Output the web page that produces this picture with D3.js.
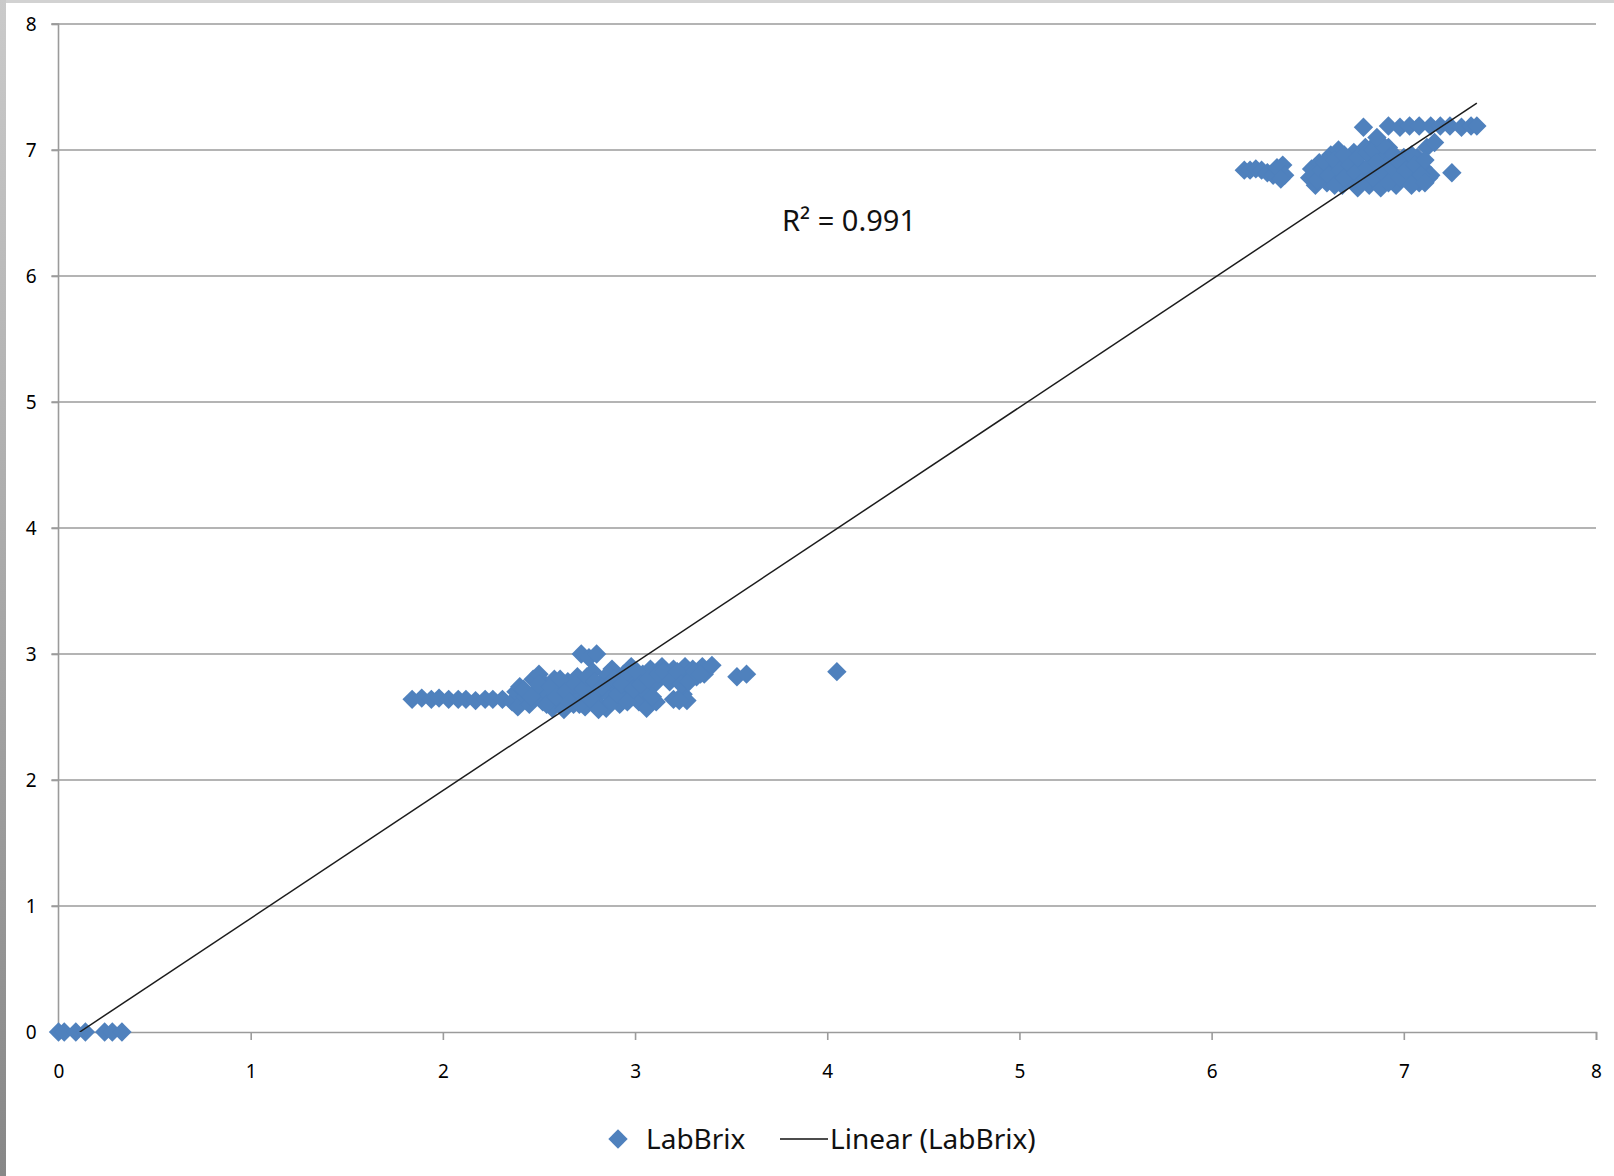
<!DOCTYPE html>
<html>
<head>
<meta charset="utf-8">
<script src="https://cdn.jsdelivr.net/npm/d3@7"></script>
<style>
  body { margin: 0; background: #fff; }
  svg { display: block; font-family: 'Noto Sans', sans-serif; }
</style>
</head>
<body>
<svg id="chart" width="1614" height="1176"></svg>
<script>
// LabBrix samples: [x, y]
const labBrixLow = [
  [0.00, 0.00], [0.03, 0.00], [0.09, 0.00], [0.14, 0.00],
  [0.24, 0.00], [0.28, 0.00], [0.33, 0.00]
]

const labBrixMid = [
  [1.84, 2.64], [1.89, 2.65], [1.94, 2.64], [1.98, 2.65], [2.03, 2.64], [2.08, 2.64],
  [2.12, 2.64], [2.17, 2.63], [2.22, 2.64], [2.26, 2.64], [2.31, 2.64],
  [2.36, 2.62], [2.38, 2.70], [2.39, 2.58], [2.40, 2.74], [2.43, 2.66], [2.45, 2.60],
  [2.47, 2.80], [2.48, 2.70], [2.50, 2.84], [2.52, 2.62], [2.53, 2.76], [2.55, 2.68],
  [2.57, 2.57], [2.58, 2.80], [2.60, 2.72], [2.62, 2.64], [2.63, 2.56], [2.65, 2.78],
  [2.67, 2.70], [2.68, 2.60], [2.72, 3.00], [2.76, 2.97], [2.80, 3.00],
  [2.70, 2.82], [2.72, 2.66], [2.74, 2.58], [2.76, 2.74], [2.78, 2.86], [2.80, 2.62],
  [2.82, 2.70], [2.84, 2.80], [2.85, 2.57], [2.87, 2.66], [2.88, 2.88], [2.90, 2.74],
  [2.92, 2.60], [2.94, 2.84], [2.95, 2.70], [2.97, 2.66], [2.98, 2.90], [3.00, 2.78],
  [3.02, 2.62], [3.04, 2.84], [3.05, 2.70], [3.06, 2.57], [3.08, 2.88], [3.10, 2.76],
  [3.11, 2.62], [3.14, 2.90], [3.16, 2.82], [3.20, 2.64], [3.20, 2.88], [3.22, 2.80],
  [3.25, 2.68], [3.26, 2.90], [3.27, 2.63], [3.28, 2.84], [3.30, 2.88], [3.32, 2.82],
  [3.35, 2.90], [3.36, 2.84],
  [2.42, 2.72], [2.46, 2.66], [2.50, 2.76], [2.54, 2.60], [2.56, 2.74], [2.59, 2.66],
  [2.61, 2.80], [2.64, 2.70], [2.66, 2.62], [2.69, 2.76], [2.71, 2.60], [2.73, 2.72],
  [2.75, 2.82], [2.77, 2.64], [2.79, 2.78], [2.81, 2.56], [2.83, 2.74], [2.86, 2.84],
  [2.88, 2.62], [2.89, 2.80], [2.91, 2.68], [2.93, 2.76], [2.96, 2.86], [2.96, 2.62],
  [2.99, 2.72], [3.01, 2.86], [3.03, 2.76], [3.07, 2.80], [3.09, 2.66], [3.12, 2.84],
  [3.15, 2.86], [3.18, 2.78], [3.22, 2.86], [3.24, 2.76], [3.28, 2.78], [3.31, 2.86],
  [3.34, 2.84], [3.23, 2.63],
  [3.40, 2.91], [3.53, 2.82], [3.58, 2.84], [4.05, 2.86]
]

const labBrixHigh = [
  [6.17, 6.84], [6.20, 6.84], [6.23, 6.85], [6.26, 6.84], [6.29, 6.82], [6.32, 6.80],
  [6.34, 6.86], [6.37, 6.88], [6.38, 6.80], [6.36, 6.77],
  [6.51, 6.78], [6.52, 6.85], [6.54, 6.72], [6.56, 6.90], [6.58, 6.80], [6.60, 6.74],
  [6.62, 6.96], [6.63, 6.86], [6.65, 6.78], [6.66, 7.00], [6.68, 6.72], [6.70, 6.92],
  [6.71, 6.84], [6.73, 6.76], [6.74, 6.98], [6.76, 6.70], [6.77, 6.88], [6.79, 6.80],
  [6.80, 7.02], [6.82, 6.72], [6.83, 6.94], [6.85, 6.84], [6.86, 7.06], [6.87, 6.76],
  [6.88, 6.70], [6.90, 6.98], [6.91, 6.88], [6.93, 6.78], [6.92, 7.02], [6.96, 6.72],
  [6.97, 6.92], [6.99, 6.84], [7.00, 6.94], [7.02, 6.76], [7.03, 6.90], [7.05, 6.82],
  [7.07, 6.94], [7.08, 6.74], [7.10, 6.86], [7.12, 7.02], [7.13, 6.78], [7.14, 6.80],
  [7.16, 7.06], [7.06, 6.78],
  [6.53, 6.80], [6.55, 6.76], [6.57, 6.84], [6.59, 6.90], [6.61, 6.80], [6.64, 6.72],
  [6.64, 6.92], [6.67, 6.84], [6.69, 6.78], [6.69, 6.96], [6.72, 6.88], [6.75, 6.82],
  [6.76, 6.94], [6.78, 6.74], [6.81, 6.86], [6.81, 6.98], [6.84, 6.78], [6.84, 7.00],
  [6.86, 6.90], [6.89, 6.82], [6.89, 7.04], [6.92, 6.74], [6.94, 6.86], [6.95, 6.96],
  [6.98, 6.78], [6.98, 6.90], [7.01, 6.84], [7.04, 6.72], [7.04, 6.96], [7.06, 6.88],
  [7.09, 6.80], [7.11, 6.92], [7.11, 6.74], [6.86, 7.10],
  [6.79, 7.18], [6.92, 7.19], [6.98, 7.18], [7.03, 7.19], [7.08, 7.19], [7.14, 7.19],
  [7.19, 7.19], [7.24, 7.19], [7.30, 7.18], [7.35, 7.19], [7.38, 7.19],
  [7.25, 6.82]
]

const xTicks = [0, 1, 2, 3, 4, 5, 6, 7, 8]
const yTicks = [0, 1, 2, 3, 4, 5, 6, 7, 8]

// linear trendline as Excel reports it
const trendSlope = 1.014
const trendIntercept = -0.112
const trendXMax = 7.38
const rSquaredLabel = 'R² = 0.991'

const seriesName = 'LabBrix'
const trendName = 'Linear (LabBrix)'

const margin = { top: 24, right: 18, bottom: 144, left: 58.5 }
const width = 1614
const height = 1176
const plotW = width - margin.left - margin.right
const plotH = height - margin.top - margin.bottom

const gridColor = '#9b9b9b'
const markerColor = '#4f81bd'

const svg = d3.select('#chart')

// window frame shading
const defs = svg.append('defs')
const grad = defs.append('linearGradient')
  .attr('id', 'leftEdge')
  .attr('x1', 0).attr('y1', 0).attr('x2', 0).attr('y2', 1)
grad.append('stop').attr('offset', '0%').attr('stop-color', '#cacaca')
grad.append('stop').attr('offset', '100%').attr('stop-color', '#878787')

defs.append('clipPath')
  .attr('id', 'plotClip')
  .append('rect')
  .attr('width', plotW)
  .attr('height', plotH)

svg.append('rect')
  .attr('x', 0).attr('y', 0)
  .attr('width', width).attr('height', 3)
  .attr('fill', '#d2d2d2')

svg.append('rect')
  .attr('x', 0).attr('y', 0)
  .attr('width', 6).attr('height', height)
  .attr('fill', 'url(#leftEdge)')

const g = svg.append('g')
  .attr('transform', `translate(${margin.left}, ${margin.top})`)

const x = d3.scaleLinear().domain([0, 8]).range([0, plotW])
const y = d3.scaleLinear().domain([0, 8]).range([plotH, 0])

// horizontal gridlines (stick out left like tick marks)
g.append('g')
  .selectAll('line')
  .data(yTicks.filter(d => d > 0))
  .enter()
  .append('line')
    .attr('x1', -7)
    .attr('x2', plotW)
    .attr('y1', d => y(d))
    .attr('y2', d => y(d))
    .attr('stroke', gridColor)
    .attr('stroke-width', 1.6)

const yAxis =
  d3.axisLeft(y)
    .tickValues(yTicks)
    .tickSize(7)
    .tickPadding(15)
    .tickFormat(d3.format('d'))

const xAxis =
  d3.axisBottom(x)
    .tickValues(xTicks)
    .tickSize(8)
    .tickSizeOuter(8)
    .tickPadding(25)
    .tickFormat(d3.format('d'))

const yAxisG = g.append('g').call(yAxis)
const xAxisG = g.append('g')
  .attr('transform', `translate(0, ${plotH})`)
  .call(xAxis)

;[xAxisG, yAxisG].forEach(ax => {
  ax.select('.domain').attr('stroke', gridColor).attr('stroke-width', 1.6)
  ax.selectAll('.tick line').attr('stroke', gridColor).attr('stroke-width', 1.6)
  ax.selectAll('.tick text')
    .attr('fill', '#000')
    .style('font-size', '19px')
    .style('font-family', "'Noto Sans', sans-serif")
})
yAxisG.select('.domain').attr('d', `M-7,0H0V${plotH}`)

// markers
const diamond = d3.symbol().type(d3.symbolDiamond2).size(240)
const points = labBrixLow.concat(labBrixMid, labBrixHigh)

g.append('g')
  .selectAll('path')
  .data(points)
  .enter()
  .append('path')
    .attr('d', diamond)
    .attr('transform', d => `translate(${x(d[0])}, ${y(d[1])})`)
    .attr('fill', markerColor)

// trendline, clipped to the plot area like Excel
const trendX0 = -trendIntercept / trendSlope
const trendLine = d3.line()
  .x(d => x(d))
  .y(d => y(trendSlope * d + trendIntercept))

g.append('path')
  .datum([trendX0, trendXMax])
  .attr('clip-path', 'url(#plotClip)')
  .attr('d', trendLine)
  .attr('fill', 'none')
  .attr('stroke', '#1c1c1c')
  .attr('stroke-width', 1.5)

g.append('text')
  .attr('x', 782 - margin.left)
  .attr('y', 231 - margin.top)
  .attr('fill', '#111')
  .style('font-size', '29px')
  .text(rSquaredLabel)

// legend
const legend = svg.append('g')
  .attr('transform', 'translate(618, 1139)')

legend.append('path')
  .attr('d', diamond)
  .attr('fill', markerColor)

legend.append('text')
  .attr('x', 28)
  .attr('y', 10)
  .attr('fill', '#111')
  .style('font-size', '28px')
  .text(seriesName)

legend.append('line')
  .attr('x1', 162).attr('x2', 210)
  .attr('y1', 0).attr('y2', 0)
  .attr('stroke', '#111')
  .attr('stroke-width', 1.5)

legend.append('text')
  .attr('x', 212)
  .attr('y', 10)
  .attr('fill', '#111')
  .style('font-size', '28px')
  .text(trendName)
</script>
</body>
</html>
